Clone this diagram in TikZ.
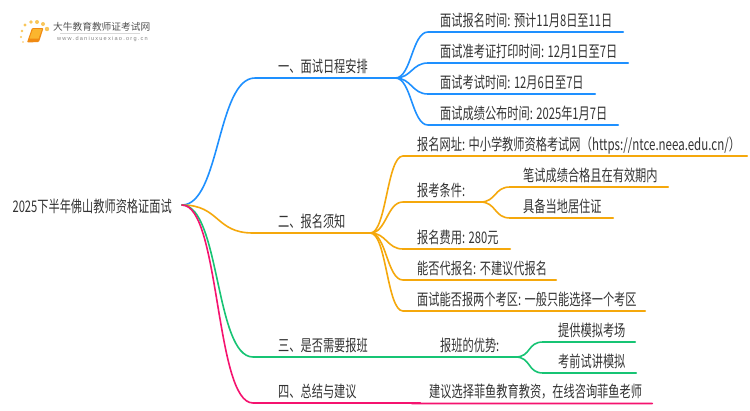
\documentclass[tikz,border=0pt]{standalone}
\usepackage{fontspec}
\setmainfont[FakeStretch=0.7]{Noto Sans CJK SC}
\newfontfamily\logofont{Noto Sans CJK SC}
\newfontfamily\urlfont[FakeStretch=0.72]{Noto Sans CJK SC}
\newfontfamily\logosmall[LetterSpace=22]{Liberation Sans}
\definecolor{cblue}{HTML}{1E90FF}
\definecolor{corange}{HTML}{F5A80C}
\definecolor{cgreen}{HTML}{17C474}
\definecolor{cpink}{HTML}{F5136F}
\definecolor{ctext}{HTML}{333333}
\definecolor{cdot}{HTML}{F9C65A}
\definecolor{cbook}{HTML}{F08A12}
\definecolor{cbooklight}{HTML}{FBB52E}
\tikzset{
  leaf/.style={anchor=south west,inner xsep=0pt,inner ysep=2.5pt,align=left,text height=11pt,text depth=3pt,font=\fontsize{16}{18}\selectfont,text=ctext},
  wire/.style={line width=1.6pt,line cap=round},
  logotext/.style={inner sep=0pt,anchor=west,text=ctext!85}
}
\newcommand{\cgap}{:\hspace{3.5pt}}
% name, x start, x end, y of line, text offset, text
\newcommand{\leafnode}[6]{%
  \pgfmathsetmacro{\leafw}{#3-#2}%
  \node[leaf,text width=\leafw pt] (#1) at (#2,#4) {\hspace*{#5pt}\mbox{#6}};}
\newcommand{\conn}[4][16]{\draw[wire,#2] (#3) .. controls +(#1,0) and +(-#1,0) .. (#4.south west) -- (#4.south east);}
\begin{document}
\begin{tikzpicture}[x=1pt,y=-1pt]
\useasboundingbox (0,0) rectangle (750,410);
\fill[white] (0,0) rectangle (750,410);
% logo
\foreach \a/\b/\r in {23/42/0.9,21/37/1.1,22/31/1.3,25/25/1.6,31/22/1.9,37/22/2,43/24/2,47/29/2.2}
  \fill[cdot] (\a,\b) circle (\r);
\fill[cbook,rounded corners=1pt] (32,28) -- (43.5,28) -- (39,42) -- (27,42.5) -- cycle;
\fill[cbooklight] (33,29) -- (42,29) -- (38.5,38.5) -- (29.5,38.5) -- cycle;
\fill[black!15] (60,33) rectangle (140,33.6);
\node[logotext,font=\logofont\fontsize{9.7}{11}\selectfont] (logoa) at (53,27) {大牛教育教师证考试网};
\node[logotext,font=\logosmall\fontsize{5.6}{7}\selectfont,text=ctext!60] (logob) at (57,39) {www.daniuxuexiao.org.cn};
% root
\node[anchor=east,inner sep=0pt,font=\fontsize{16}{18}\selectfont,text=ctext,text height=15pt,text depth=1pt] (root) at (182,205) {2025下半年佛山教师资格证面试\hspace*{10pt}};
% branch 1
\leafnode{a}{255}{395}{78}{23}{一、面试日程安排}
\leafnode{a1}{428}{623}{32}{12}{面试报名时间\cgap{}预计11月8日至11日}
\leafnode{a2}{428}{628}{63}{12}{面试准考证打印时间\cgap{}12月1日至7日}
\leafnode{a3}{428}{595}{94}{12}{面试考试时间\cgap{}12月6日至7日}
\leafnode{a4}{428}{618}{125}{12}{面试成绩公布时间\cgap{}2025年1月7日}
% branch 2
\leafnode{b}{253}{370}{233}{25}{二、报名须知}
\leafnode{b1}{403}{747}{156}{14}{报名网址\cgap{}中小学教师资格考试网{\urlfont（https://ntce.neea.edu.cn/）}}
\leafnode{b2}{403}{480}{202}{14}{报考条件:}
\leafnode{b21}{510}{668}{187}{13}{笔试成绩合格且在有效期内}
\leafnode{b22}{510}{613}{218}{13}{具备当地居住证}
\leafnode{b3}{403}{510}{249}{14}{报名费用\cgap{}280元}
\leafnode{b4}{403}{556}{280}{14}{能否代报名\cgap{}不建议代报名}
\leafnode{b5}{403}{645}{311}{14}{面试能否报两个考区\cgap{}一般只能选择一个考区}
% branch 3
\leafnode{c}{253}{415}{357}{25}{三、是否需要报班}
\leafnode{c0}{415}{515}{357}{25}{报班的优势:}
\leafnode{c1}{543}{635}{342}{15}{提供模拟考场}
\leafnode{c2}{543}{636}{373}{15}{考前试讲模拟}
% branch 4
\leafnode{d}{253}{416}{403}{25}{四、总结与建议}
\leafnode{d0}{416}{652}{403.5}{13}{建议选择菲鱼教育教资，在线咨询菲鱼老师}
% connectors
\conn[38]{cblue}{root.east}{a}
\conn[38]{corange}{root.east}{b}
\conn[38]{cgreen}{root.east}{c}
\conn[38]{cpink}{root.east}{d}
\foreach \n in {a1,a2,a3,a4}{\conn{cblue}{a.south east}{\n}}
\foreach \n in {b1,b2,b3,b4,b5}{\conn{corange}{b.south east}{\n}}
\foreach \n in {b21,b22}{\conn{corange}{b2.south east}{\n}}
\conn{cgreen}{c.south east}{c0}
\foreach \n in {c1,c2}{\conn{cgreen}{c0.south east}{\n}}
\conn{cpink}{d.south east}{d0}
\end{tikzpicture}
\end{document}
